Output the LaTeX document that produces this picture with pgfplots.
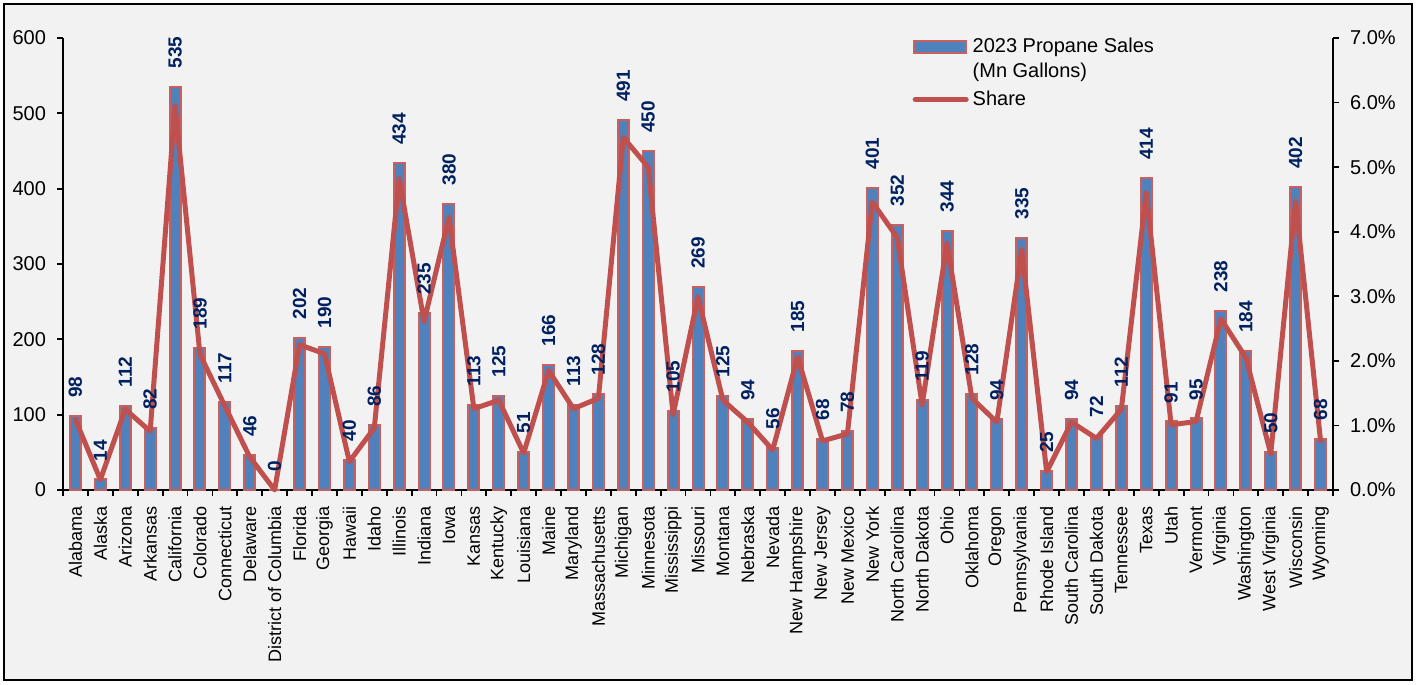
\documentclass[border=0pt]{standalone}
\usepackage{pgfplots}
\pgfplotsset{compat=1.18}
\usepackage{pgfplotstable}
\usepackage{fontspec}
\setmainfont{Liberation Sans}
\definecolor{barblue}{HTML}{4F81BD}
\definecolor{linered}{HTML}{C0504D}
\definecolor{lblnavy}{HTML}{002060}
\definecolor{bgray}{HTML}{F2F2F2}

% x = category index, sales in Mn gallons, share in %
\pgfplotstableread{
x sales share
0 98 1.09
1 14 0.16
2 112 1.25
3 82 0.91
4 535 5.95
5 189 2.10
6 117 1.30
7 46 0.51
8 0 0.00
9 202 2.25
10 190 2.11
11 40 0.44
12 86 0.96
13 434 4.82
14 235 2.61
15 380 4.22
16 113 1.26
17 125 1.39
18 51 0.57
19 166 1.85
20 113 1.26
21 128 1.42
22 491 5.46
23 450 5.00
24 105 1.17
25 269 2.99
26 125 1.39
27 94 1.05
28 56 0.62
29 185 2.06
30 68 0.76
31 78 0.87
32 401 4.46
33 352 3.91
34 119 1.32
35 344 3.82
36 128 1.42
37 94 1.05
38 335 3.72
39 25 0.28
40 94 1.05
41 72 0.80
42 112 1.25
43 414 4.60
44 91 1.01
45 95 1.06
46 238 2.65
47 184 2.05
48 50 0.56
49 402 4.47
50 68 0.76
}\datatable

\pgfplotsset{
  common/.style={
    at={(0pt,0pt)}, anchor=south west,
    scale only axis, width=635pt, height=226pt,
    xmin=-0.5, xmax=50.5,
    axis line style={line width=0.9pt, -},
    tick align=outside, major tick length=3pt,
    tick style={black, line width=0.9pt},
    /pgf/number format/assume math mode=true,
  },
}

\begin{document}
\begin{tikzpicture}
\fill[bgray] (-29.5pt,-95pt) rectangle (674.5pt,243pt);
\useasboundingbox (-31.5pt,-97pt) rectangle (676.5pt,245pt);

% bars, left axis
\begin{axis}[common,
    ymin=0, ymax=600,
    axis y line*=left, axis x line*=bottom,
    ytick={0,100,...,600},
    y tick label style={font=\fontsize{10}{12}\selectfont, xshift=-2pt},
    xtick={-0.5,0.5,...,50.5}, xticklabels={},
    extra x ticks={0,1,...,50},
    extra x tick labels={Alabama,Alaska,Arizona,Arkansas,California,Colorado,Connecticut,Delaware,District of Columbia,Florida,Georgia,Hawaii,Idaho,Illinois,Indiana,Iowa,Kansas,Kentucky,Louisiana,Maine,Maryland,Massachusetts,Michigan,Minnesota,Mississippi,Missouri,Montana,Nebraska,Nevada,New Hampshire,New Jersey,New Mexico,New York,North Carolina,North Dakota,Ohio,Oklahoma,Oregon,Pennsylvania,Rhode Island,South Carolina,South Dakota,Tennessee,Texas,Utah,Vermont,Virginia,Washington,West Virginia,Wisconsin,Wyoming},
    extra x tick style={major tick length=0pt, xticklabel shift=4.5pt,
        tick label style={rotate=90, anchor=east,
            font=\fontsize{9}{11}\selectfont}},
]
\addplot[ybar, bar width=5.5pt, fill=barblue, draw=linered!90!white, line width=1pt]
    table[x=x, y=sales]{\datatable};
\end{axis}

% share line, right axis
\begin{axis}[common,
    ymin=0, ymax=7,
    axis y line*=right, axis x line=none,
    ytick={0,1,...,7},
    yticklabel={\pgfmathprintnumber[fixed, fixed zerofill, precision=1]{\tick}\%},
    y tick label style={font=\fontsize{10}{12}\selectfont, xshift=2pt},
    clip=false,
    legend style={at={(0.664,1.018)}, anchor=north west, draw=none, fill=none,
        font=\fontsize{10}{12.5}\selectfont, cells={anchor=west, align=left},
        row sep=1pt},
    legend cell align=left,
]
\addlegendimage{legend image code/.code={\draw[fill=barblue, draw=linered!90!white, line width=1pt] (0.5pt,3.25pt) rectangle (26.5pt,9.25pt);}}
\addlegendentry{2023 Propane Sales\\(Mn Gallons)}
\addplot[linered, line width=2.5pt, line join=round, line cap=round, mark=none,
    legend image code/.code={\draw[linered, line width=2.5pt, line cap=round] (1.25pt,0pt) -- (26.75pt,0pt);}]
    table[x=x, y=share]{\datatable};
\addlegendentry{Share}
\end{axis}

% data labels on top of everything
\begin{axis}[common,
    ymin=0, ymax=600, axis lines=none, clip=false,
]
\addplot[ybar, bar width=5.5pt, draw=none, fill=none,
    nodes near coords,
    every node near coord/.append style={rotate=90, anchor=west, inner xsep=9pt,
        font=\bfseries\fontsize{9.5}{11}\selectfont, text=lblnavy}]
    table[x=x, y=sales]{\datatable};
\end{axis}

\draw[black, line width=1.1pt] (-29.5pt,-95pt) rectangle (674.5pt,243pt);
\end{tikzpicture}
\end{document}
